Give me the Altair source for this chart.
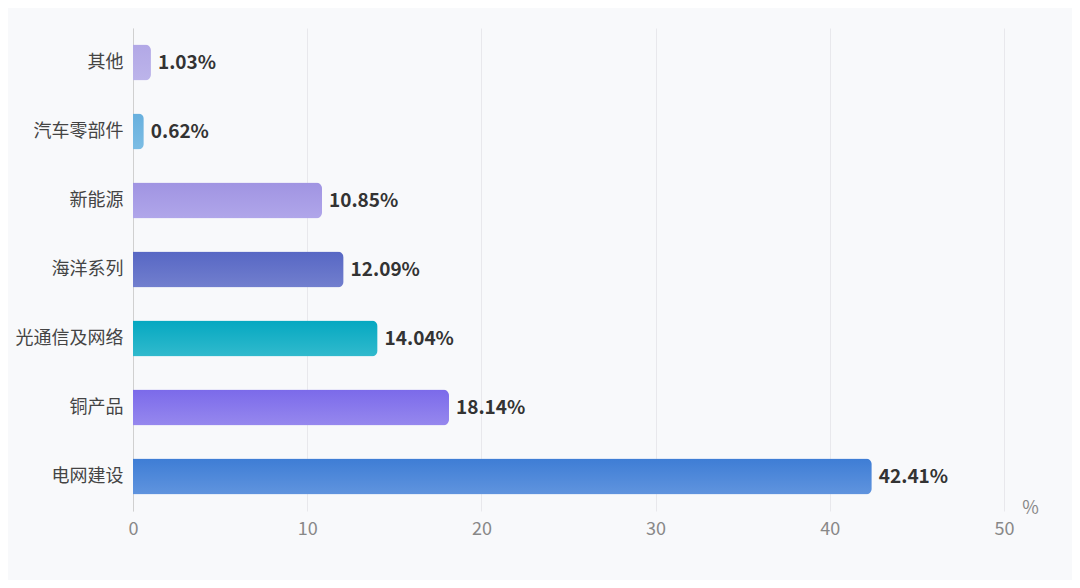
import altair as alt
import pandas as pd

categories = ["其他", "汽车零部件", "新能源", "海洋系列", "光通信及网络", "铜产品", "电网建设"]
values = [1.03, 0.62, 10.85, 12.09, 14.04, 18.14, 42.41]
color_top = ["#b2a8e6", "#68b0de", "#a094e2", "#5767c4", "#05a8c1", "#7b6aea", "#3e7dd5"]
color_bottom = ["#bcb4ea", "#7cbde4", "#b0a6ea", "#727fce", "#31bacd", "#9688ee", "#6094de"]
x_ticks = [0, 10, 20, 30, 40, 50]

df = pd.DataFrame({"cat": categories, "v": values})
FONT = "Noto Sans CJK SC"

y_enc = alt.Y("cat:N", sort=categories, title=None,
              scale=alt.Scale(paddingInner=0.48, paddingOuter=0.24),
              axis=alt.Axis(labelFontSize=18, labelColor="#444444", labelFont=FONT,
                            labelPadding=10, ticks=False, domain=True,
                            domainColor="#d0d0d0", grid=False))
x_enc = alt.X("v:Q", scale=alt.Scale(domain=[0, 50], nice=False),
              axis=alt.Axis(values=x_ticks, labelFontSize=18, labelColor="#888888",
                            labelFont=FONT, labelPadding=9, labelFlush=False,
                            ticks=False, domain=False,
                            grid=True, gridColor="#e8e8ec", title="%",
                            titleFontSize=18, titleFontWeight="normal", titleColor="#888888",
                            titleFont=FONT, titleAngle=0, titleX=897, titleY=-3,
                            titleAlign="center", titleBaseline="middle"))

base = alt.Chart(df)
layers = []
for i, c in enumerate(categories):
    grad = alt.Gradient(gradient="linear", x1=0, y1=0, x2=0, y2=1,
                        stops=[alt.GradientStop(color=color_top[i], offset=0),
                               alt.GradientStop(color=color_bottom[i], offset=1)])
    layers.append(
        base.transform_filter(alt.datum.cat == c)
        .mark_bar(color=grad, cornerRadiusTopRight=6, cornerRadiusBottomRight=6)
        .encode(x=x_enc, y=y_enc)
    )

text = base.transform_calculate(
    label="format(datum.v, '.2f') + '%'"
).mark_text(align="left", baseline="middle", dx=7, fontSize=19, fontWeight="bold",
            color="#333333", font=FONT).encode(
    x=alt.X("v:Q"), y=alt.Y("cat:N", sort=categories), text="label:N")

chart = alt.layer(*layers, text).properties(
    width=871, height=483,
    autosize=alt.AutoSizeParams(type="none"),
    padding={"left": 125, "top": 20, "right": 68, "bottom": 69},
    background="#f8f9fb",
).configure_view(stroke=None)

chart.save("out.html", embed_options={"renderer": "svg", "actions": False})
